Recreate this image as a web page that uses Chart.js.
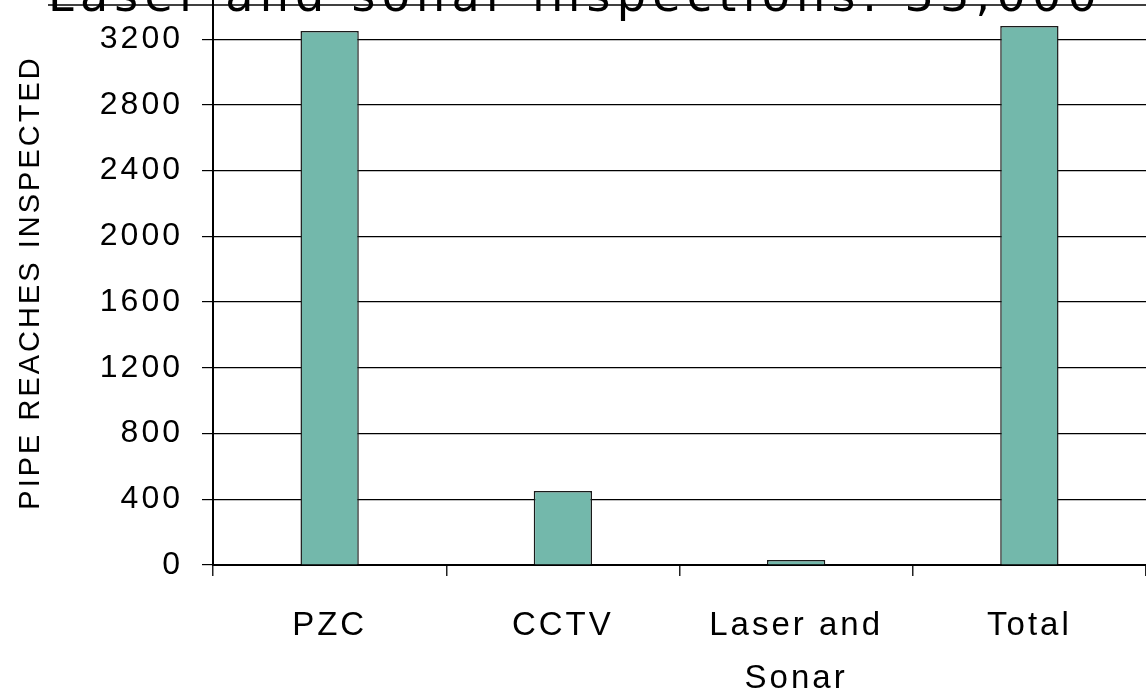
<!DOCTYPE html>
<html>
<head>
<meta charset="utf-8">
<title>Pipe reaches inspected</title>
<script src="https://cdn.jsdelivr.net/npm/chart.js@4/dist/chart.umd.min.js"></script>
<style>
  html, body { margin: 0; padding: 0; background: #fff; overflow: hidden; }
  #wrap { width: 1146px; height: 694px; position: relative; }
</style>
</head>
<body>
<div id="wrap"><canvas id="inspChart" width="1146" height="694"></canvas></div>
<script>
var categories = ['PZC', 'CCTV', ['Laser and', 'Sonar'], 'Total'];
var reachesInspected = [3250, 450, 30, 3280];
var yTicks = [0, 400, 800, 1200, 1600, 2000, 2400, 2800, 3200];
var chartTitle = 'Laser and sonar inspections: 33,000';
var yAxisLabel = 'PIPE REACHES INSPECTED';

var fontFamily = '"Liberation Sans", Arial, sans-serif';

// the reference text is drawn a little letter-spaced
var spacingPlugin = {
  id: 'spacing',
  beforeUpdate: function (chart) { chart.ctx.letterSpacing = '3px'; },
  beforeDraw: function (chart) { chart.ctx.letterSpacing = '3px'; }
};

// title sits above the top edge and is cut off, like the source image
var clippedTitle = {
  id: 'clippedTitle',
  afterDraw: function (chart) {
    var ctx = chart.ctx;
    ctx.save();
    ctx.font = '46px "DejaVu Sans", sans-serif';
    ctx.letterSpacing = '0px';
    var w0 = ctx.measureText(chartTitle).width;
    var sp = (1055 - w0) / chartTitle.length;
    ctx.letterSpacing = sp + 'px';
    ctx.fillStyle = '#000';
    ctx.textBaseline = 'alphabetic';
    ctx.textAlign = 'left';
    ctx.fillText(chartTitle, 48, 11);
    ctx.strokeStyle = '#000';
    ctx.lineWidth = 1.5;
    ctx.beginPath();
    ctx.moveTo(48, 5);
    ctx.lineTo(chart.width, 5);
    ctx.stroke();
    ctx.restore();
  }
};

var ctx = document.getElementById('inspChart').getContext('2d');
new Chart(ctx, {
  type: 'bar',
  data: {
    labels: categories,
    datasets: [{
      data: reachesInspected,
      backgroundColor: '#73B8AB',
      borderColor: '#1a1a1a',
      borderWidth: 1.5,
      barPercentage: 0.25,
      categoryPercentage: 1
    }]
  },
  options: {
    responsive: false,
    animation: false,
    devicePixelRatio: 1,
    layout: { padding: 0 },
    plugins: {
      legend: { display: false },
      tooltip: { enabled: false },
      title: { display: false }
    },
    scales: {
      x: {
        offset: true,
        grid: {
          offset: true,
          drawOnChartArea: false,
          drawTicks: true,
          tickLength: 11,
          color: '#222',
          lineWidth: 1.5
        },
        border: { color: '#000', width: 2 },
        ticks: {
          color: '#000',
          font: { family: fontFamily, size: 33, lineHeight: 1.6 },
          padding: 24,
          maxRotation: 0,
          autoSkip: false
        },
        afterFit: function (scale) {
          scale.height = 129;
          scale.paddingLeft = 0;
          scale.paddingRight = 0;
        }
      },
      y: {
        min: 0,
        max: 3438,
        afterBuildTicks: function (scale) {
          scale.ticks = yTicks.map(function (v) { return { value: v }; });
        },
        ticks: {
          color: '#000',
          font: { family: fontFamily, size: 32 },
          padding: 19,
          callback: function (value) { return String(value); }
        },
        grid: { color: '#000', lineWidth: 1.2, tickLength: 11 },
        border: { color: '#000', width: 2 },
        title: {
          display: true,
          text: yAxisLabel,
          color: '#000',
          font: { family: fontFamily, size: 29, lineHeight: 1.2 },
          padding: { top: 14, bottom: 0 }
        },
        afterFit: function (scale) {
          scale.width = 213;
          scale.paddingTop = 0;
          scale.paddingBottom = 0;
        }
      }
    }
  },
  plugins: [spacingPlugin, clippedTitle]
});
</script>
</body>
</html>
